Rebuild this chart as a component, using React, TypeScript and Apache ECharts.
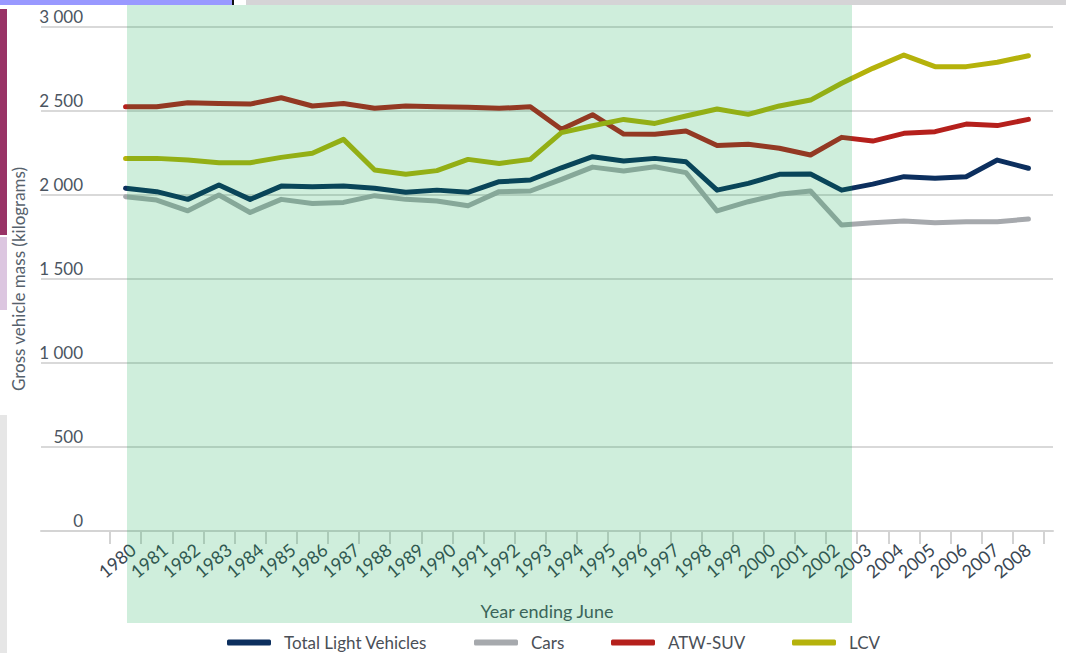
import React, { useEffect, useRef } from "react";
import * as echarts from "echarts";

// Year labels shown under the axis (29 labels)
const yearLabels = [
  "1980", "1981", "1982", "1983", "1984", "1985", "1986", "1987", "1988", "1989",
  "1990", "1991", "1992", "1993", "1994", "1995", "1996", "1997", "1998", "1999",
  "2000", "2001", "2002", "2003", "2004", "2005", "2006", "2007", "2008",
];

// The plotted lines have 30 vertices each, spread over their own slots
const dataSlots = [
  "p1", "p2", "p3", "p4", "p5", "p6", "p7", "p8", "p9", "p10",
  "p11", "p12", "p13", "p14", "p15", "p16", "p17", "p18", "p19", "p20",
  "p21", "p22", "p23", "p24", "p25", "p26", "p27", "p28", "p29", "p30",
];

const totalLightVehicles = [
  2040, 2020, 1974, 2060, 1974, 2053, 2049, 2053, 2040, 2016,
  2029, 2016, 2079, 2089, 2162, 2228, 2202, 2218, 2198, 2029,
  2069, 2123, 2125, 2029, 2065, 2109, 2099, 2109, 2208, 2159,
];
const cars = [
  1990, 1970, 1906, 2000, 1896, 1974, 1950, 1956, 1996, 1974,
  1964, 1936, 2020, 2024, 2093, 2166, 2143, 2168, 2133, 1905,
  1960, 2004, 2024, 1821, 1835, 1845, 1835, 1841, 1841, 1857,
];
const atwSuv = [
  2525, 2525, 2549, 2545, 2541, 2579, 2530, 2545, 2516, 2530,
  2525, 2522, 2516, 2525, 2391, 2478, 2363, 2361, 2381, 2294,
  2302, 2278, 2238, 2343, 2321, 2367, 2377, 2422, 2413, 2450,
];
const lcv = [
  2218, 2218, 2208, 2192, 2192, 2224, 2248, 2331, 2149, 2123,
  2145, 2212, 2188, 2212, 2371, 2412, 2450, 2426, 2470, 2512,
  2480, 2530, 2565, 2665, 2754, 2833, 2764, 2764, 2790, 2829,
];

const seriesNames = ["Total Light Vehicles", "Cars", "ATW-SUV", "LCV"];
const yTicks = [0, 500, 1000, 1500, 2000, 2500, 3000];

const FONT = "Lato, 'Open Sans', sans-serif";

export default function App() {
  const ref = useRef<HTMLDivElement>(null);
  useEffect(() => {
    if (!ref.current) return;
    const chart = echarts.init(ref.current, undefined, { renderer: "svg" });
    const fmt = (v: number) =>
      yTicks.includes(v) ? String(v).replace(/\B(?=(\d{3})+(?!\d))/g, " ") : "";
    const mkLine = (name: string, data: number[], color: string) => ({
      name,
      type: "line",
      xAxisIndex: 1,
      yAxisIndex: 1,
      data,
      symbol: "none",
      color,
      lineStyle: { width: 5, color, cap: "round", join: "round" },
    });
    const legendLeft = [222, 469, 606, 787];
    const legends = seriesNames.map((n, i) => ({
      left: legendLeft[i],
      top: 629,
      icon: "roundRect",
      itemWidth: 44,
      itemHeight: 6,
      textStyle: { fontSize: 17, color: "#4a4f57", fontFamily: FONT, padding: [0, 0, 0, 8] },
      data: [n],
    }));
    chart.setOption({
      animation: false,
      backgroundColor: "#ffffff",
      textStyle: { fontFamily: FONT },
      grid: [
        { left: 41, right: 13, top: 27, bottom: 122 },
        { left: 110, right: 22, top: 27, bottom: 122 },
        { left: 117, right: 22, top: 27, bottom: 122 },
      ],
      xAxis: [
        {
          gridIndex: 0,
          type: "value",
          min: 0,
          max: 1,
          axisLine: { show: true, lineStyle: { color: "#d4d4d4", width: 2 } },
          axisTick: { show: false },
          axisLabel: { show: false },
          splitLine: { show: false },
          name: "Year ending June",
          nameLocation: "middle",
          nameGap: 71,
          nameTextStyle: { fontSize: 18, color: "#4a5560", fontFamily: FONT },
        },
        {
          gridIndex: 1,
          type: "category",
          data: dataSlots,
          boundaryGap: true,
          axisLine: { show: false },
          axisTick: { show: true, length: 13, lineStyle: { color: "#d3d3d3", width: 2 } },
          axisLabel: { show: false },
          splitLine: { show: false },
        },
        {
          gridIndex: 2,
          type: "category",
          data: yearLabels,
          boundaryGap: true,
          axisLine: { show: false },
          axisTick: { show: false },
          axisLabel: {
            rotate: 40,
            interval: 0,
            margin: 16,
            fontSize: 18,
            color: "#3a4753",
            fontFamily: FONT,
          },
          splitLine: { show: false },
        },
      ],
      yAxis: [
        {
          gridIndex: 0,
          type: "value",
          min: 0,
          max: 3000,
          interval: 500,
          axisLine: { show: false },
          axisTick: { show: false },
          splitLine: { show: true, lineStyle: { color: "#d9d9d9", width: 2 } },
          axisLabel: {
            inside: true,
            align: "right",
            verticalAlign: "bottom",
            margin: 42,
            padding: [0, 0, 2, 0],
            fontSize: 17,
            color: "#4b5561",
            fontFamily: FONT,
            formatter: fmt,
          },
          name: "Gross vehicle mass (kilograms)",
          nameLocation: "middle",
          nameGap: 14,
          nameRotate: 90,
          nameTextStyle: { fontSize: 17, color: "#56616c", fontFamily: FONT },
        },
        { gridIndex: 1, type: "value", min: 0, max: 3000, show: false },
        { gridIndex: 2, type: "value", min: 0, max: 3000, show: false },
      ],
      legend: legends,
      series: [
        mkLine(seriesNames[0], totalLightVehicles, "#0c2f5e"),
        mkLine(seriesNames[1], cars, "#a6a9ad"),
        mkLine(seriesNames[2], atwSuv, "#b5201c"),
        mkLine(seriesNames[3], lcv, "#b5b20b"),
      ],
      graphic: [
        { type: "rect", z: 100, silent: true, shape: { x: 127, y: 5, width: 725, height: 618 }, style: { fill: "rgba(0,165,70,0.19)" } },
        { type: "rect", z: 101, silent: true, shape: { x: 0, y: 0, width: 232, height: 5 }, style: { fill: "#9999ff" } },
        { type: "rect", z: 101, silent: true, shape: { x: 232, y: 0, width: 2, height: 5 }, style: { fill: "#111111" } },
        { type: "rect", z: 101, silent: true, shape: { x: 246, y: 0, width: 820, height: 5 }, style: { fill: "#d5d4d6" } },
        { type: "rect", z: 101, silent: true, shape: { x: 0, y: 9, width: 7, height: 226 }, style: { fill: "#993366" } },
        { type: "rect", z: 101, silent: true, shape: { x: 0, y: 237, width: 7, height: 73 }, style: { fill: "#dcc6e0" } },
        { type: "rect", z: 101, silent: true, shape: { x: 0, y: 415, width: 7, height: 238 }, style: { fill: "#e6e6e6" } },
      ],
    });
    return () => chart.dispose();
  }, []);
  return <div ref={ref} style={{ width: 1066, height: 653, position: "absolute", left: 0, top: 0 }} />;
}
